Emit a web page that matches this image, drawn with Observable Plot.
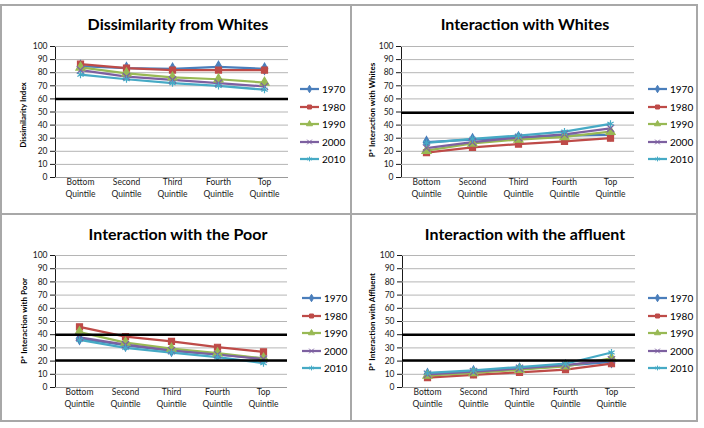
<!DOCTYPE html>
<html><head><meta charset="utf-8">
<script src="https://cdn.jsdelivr.net/npm/d3@7"></script>
<script src="https://cdn.jsdelivr.net/npm/@observablehq/plot@0.6"></script>
<style>
body{margin:0;background:#fff;font-family:Lato,"Open Sans",sans-serif;}
#root{position:relative;width:704px;height:428px;overflow:hidden;background:#fff;}
.title{position:absolute;font-weight:bold;font-size:16px;color:#000;white-space:nowrap;transform:translate(-50%,-50%);}
.ylab{position:absolute;font-weight:bold;font-size:8px;color:#000;white-space:nowrap;transform:translate(-50%,-50%) rotate(-90deg);}
.leg{position:absolute;font-size:10px;color:#000;display:flex;align-items:center;height:12px;transform:translateY(-50%);}
.leg svg{margin-right:2px;overflow:visible;}
.frame{position:absolute;background:#a8a8a8;}
.plot g[aria-label^="y-axis"] line,.plot g[aria-label^="y-axis"] path{stroke:#9a9a9a;}
</style></head><body><div id="root"></div>
<script>
// ---- data ----
const quintiles = ["Bottom\nQuintile", "Second\nQuintile", "Third\nQuintile", "Fourth\nQuintile", "Top\nQuintile"];
const years = ["1970", "1980", "1990", "2000", "2010"];
const yTicks = [0, 10, 20, 30, 40, 50, 60, 70, 80, 90, 100];

// Dissimilarity from Whites
const dis1970 = [85, 83.5, 83, 84.5, 83];
const dis1980 = [86.5, 83.5, 82, 82, 82];
const dis1990 = [84, 79.5, 76.5, 75, 72.5];
const dis2000 = [82, 77, 74.5, 72, 69.5];
const dis2010 = [78.5, 75, 72, 70, 67];
const disRefs = [60];

// Interaction with Whites
const whi1970 = [27, 29, 30.5, 32, 32.5];
const whi1980 = [19, 23, 25.5, 27.5, 30];
const whi1990 = [20.5, 26, 29, 31, 35];
const whi2000 = [22.5, 27, 30.5, 33, 37.5];
const whi2010 = [26.5, 29.5, 32, 35, 41];
const whiRefs = [49.5];

// Interaction with the Poor
const poo1970 = [37, 32, 28, 25, 22];
const poo1980 = [46, 38.5, 35, 30.5, 27];
const poo1990 = [42, 34, 29.5, 26, 22];
const poo2000 = [38, 32.5, 28, 25, 21.5];
const poo2010 = [36, 30, 26.5, 23, 18.5];
const pooRefs = [40, 20.5];

// Interaction with the affluent
const aff1970 = [10, 12, 14, 16.5, 19.5];
const aff1980 = [7.5, 9.5, 11.5, 13.5, 18];
const aff1990 = [9, 11, 13.5, 16, 22];
const aff2000 = [10, 12, 14.5, 17, 21];
const aff2010 = [11, 13, 15.5, 18, 26.5];
const affRefs = [40, 20.5];

const titles = ["Dissimilarity from Whites", "Interaction with Whites", "Interaction with the Poor", "Interaction with the affluent"];
const yLabels = ["Dissimilarity  Index", "P* Interaction with Whites", "P* Interaction with Poor", "P* Interaction with Affluent"];

// ---- styles ----
const colors = ["#4A7EBB", "#BE4B48", "#98B954", "#7D60A0", "#46AAC5"];
const symbols = ["diamond", "square", "triangle", "times", "asterisk"];
const d3symbols = [d3.symbolDiamond, d3.symbolSquare, d3.symbolTriangle, d3.symbolTimes, d3.symbolAsterisk];

const root = document.getElementById("root");

// frame lines
[[0,4,698,2],[0,420,698,2],[0,4,2,418],[696,4,2,418],[350,4,2,418],[0,213,698,2]].forEach(([l,t,w,h]) => {
  const d = document.createElement("div");
  d.className = "frame";
  Object.assign(d.style, {left: l+"px", top: t+"px", width: w+"px", height: h+"px"});
  root.appendChild(d);
});

const panels = [
  {series: [dis1970, dis1980, dis1990, dis2000, dis2010], refs: disRefs, left: 0, top: 0, w: 351, h: 214, ml: 55, mr: 63, mt: 46, mb: 37, tx: 178, ty: 23, lx: 23, ly: 115, gx: 300, gy: 89},
  {series: [whi1970, whi1980, whi1990, whi2000, whi2010], refs: whiRefs, left: 351, top: 0, w: 353, h: 214, ml: 50, mr: 70, mt: 46, mb: 37, tx: 525, ty: 23, lx: 372, ly: 110, gx: 648, gy: 89},
  {series: [poo1970, poo1980, poo1990, poo2000, poo2010], refs: pooRefs, left: 0, top: 214, w: 351, h: 214, ml: 55, mr: 64, mt: 41, mb: 41, tx: 178, ty: 233, lx: 24, ly: 321, gx: 302, gy: 298},
  {series: [aff1970, aff1980, aff1990, aff2000, aff2010], refs: affRefs, left: 351, top: 214, w: 353, h: 214, ml: 51, mr: 69, mt: 41, mb: 41, tx: 525, ty: 233, lx: 372, ly: 322, gx: 648, gy: 298}
];

panels.forEach((p, k) => {
  const data = [];
  years.forEach((yr, i) => p.series[i].forEach((v, j) => data.push({year: yr, q: quintiles[j], v})));
  const chart = Plot.plot({
    width: p.w, height: p.h,
    marginLeft: p.ml, marginRight: p.mr, marginTop: p.mt, marginBottom: p.mb,
    style: {background: "transparent", fontFamily: "Lato, sans-serif", fontSize: "8.5px", color: "#1a1a1a", overflow: "visible"},
    x: {type: "point", domain: quintiles, padding: 0.5, axis: null},
    y: {domain: [0, 100], ticks: yTicks, label: null, tickSize: 5, tickPadding: 3, line: true},
    color: {domain: years, range: colors},
    symbol: {domain: years, range: symbols},
    marks: [
      Plot.ruleY(yTicks, {stroke: "#b5b5b5", strokeWidth: 1}),
      Plot.ruleY([0], {stroke: "#9a9a9a", strokeWidth: 1}),
      Plot.text(quintiles, {x: d => d, frameAnchor: "bottom", dy: 19, lineHeight: 1.4, fontSize: 8.5, fill: "#1a1a1a"}),
      Plot.line(data, {x: "q", y: "v", z: "year", stroke: "year", strokeWidth: 2.25}),
      Plot.dot(data, {x: "q", y: "v", symbol: "year", fill: "year", stroke: "year", r: 3.4, strokeWidth: 1.2}),
      Plot.ruleY(p.refs, {stroke: "#000", strokeWidth: 2.5})
    ]
  });
  chart.style.position = "absolute";
  chart.style.left = p.left + "px";
  chart.style.top = p.top + "px";
  root.appendChild(chart);

  const t = document.createElement("div");
  t.className = "title";
  t.textContent = titles[k];
  t.style.left = p.tx + "px"; t.style.top = p.ty + "px";
  root.appendChild(t);

  const yl = document.createElement("div");
  yl.className = "ylab";
  yl.textContent = yLabels[k];
  yl.style.left = p.lx + "px"; yl.style.top = p.ly + "px";
  root.appendChild(yl);

  years.forEach((yr, i) => {
    const g = document.createElement("div");
    g.className = "leg";
    g.style.left = p.gx + "px";
    g.style.top = (p.gy + i * 17.5) + "px";
    const svg = d3.create("svg").attr("width", 20).attr("height", 10);
    svg.append("line").attr("x1", 0).attr("x2", 19).attr("y1", 5).attr("y2", 5).attr("stroke", colors[i]).attr("stroke-width", 2.25);
    svg.append("path").attr("d", d3.symbol(d3symbols[i], 16)()).attr("transform", "translate(9.5,5)")
      .attr("fill", colors[i]).attr("stroke", colors[i]).attr("stroke-width", 1);
    g.appendChild(svg.node());
    const s = document.createElement("span");
    s.textContent = yr;
    g.appendChild(s);
    root.appendChild(g);
  });
});
</script></body></html>
